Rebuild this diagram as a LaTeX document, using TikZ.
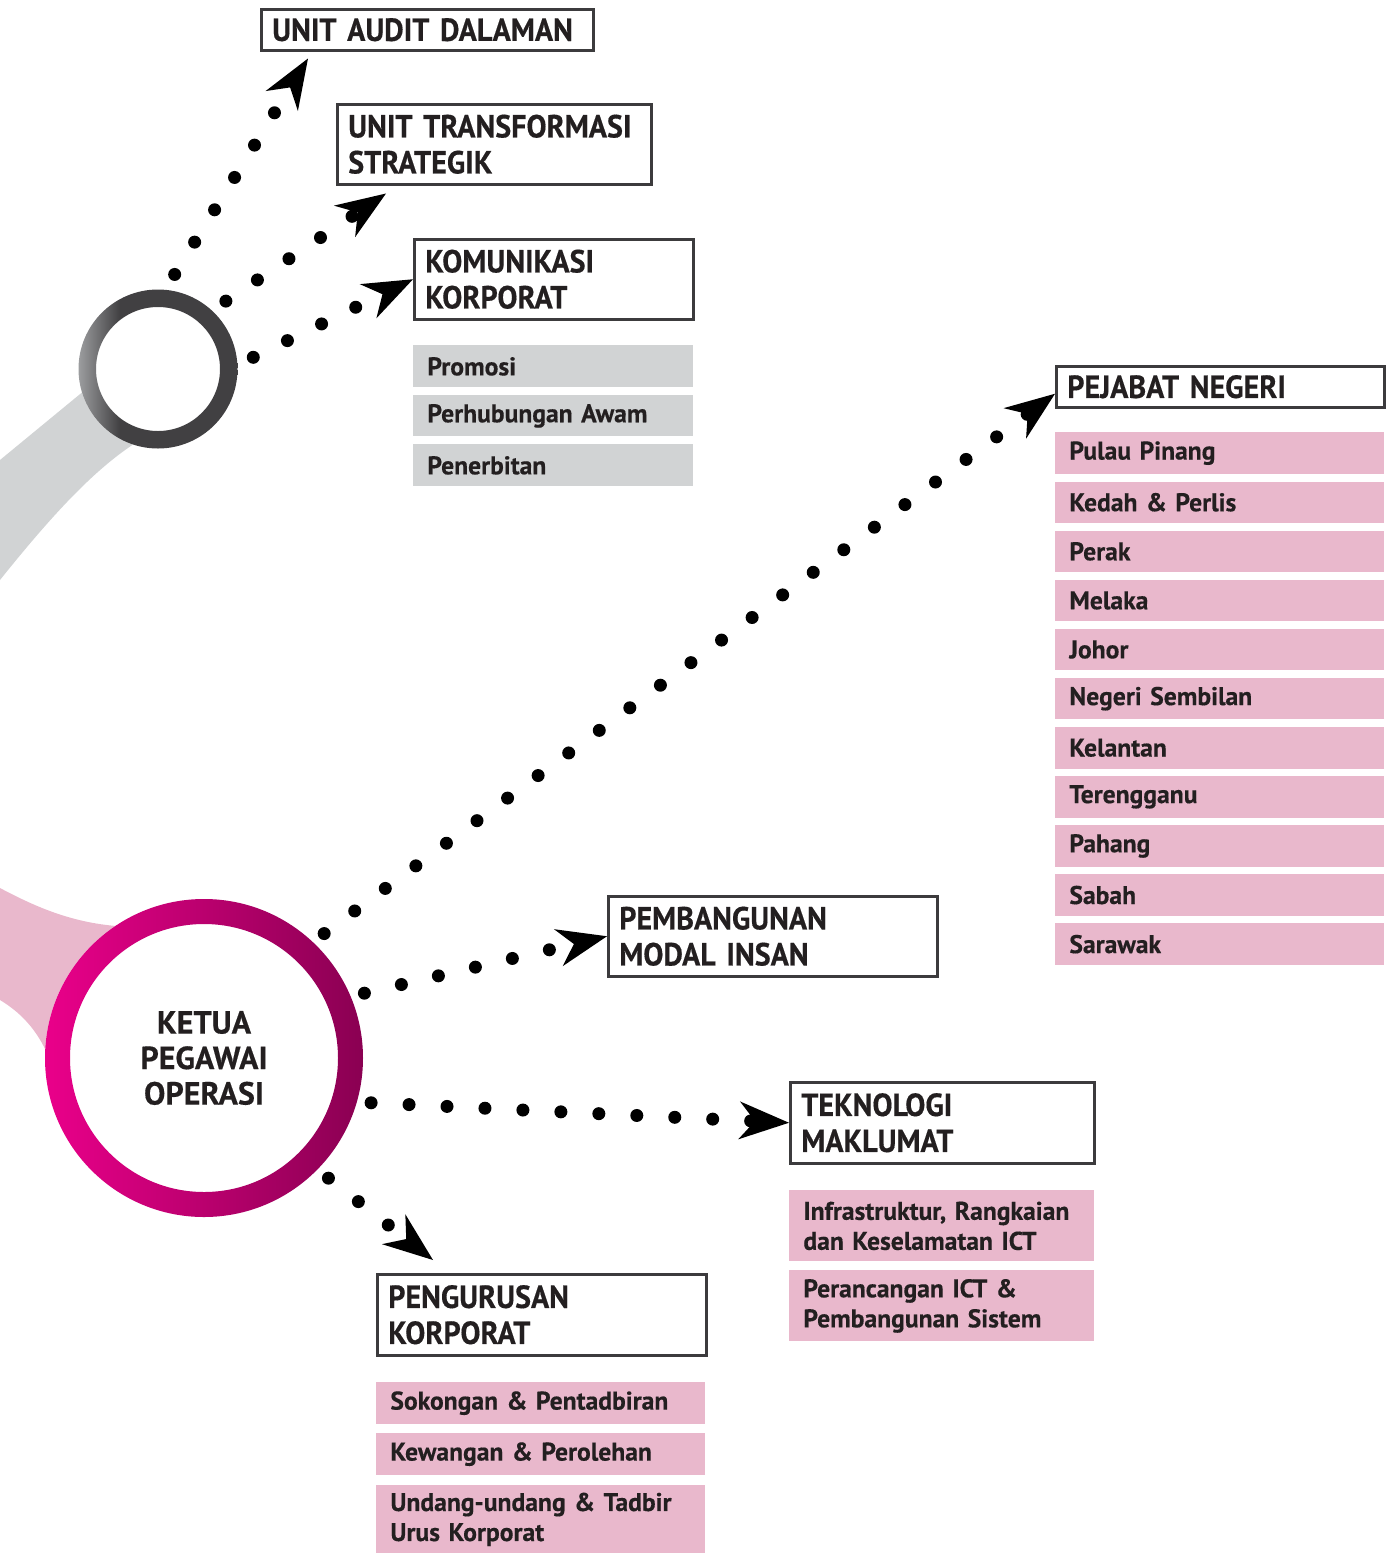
\documentclass[tikz,border=0pt]{standalone}
\usepackage{fontspec}
\setmainfont{PT Sans}[WordSpace=0.7, BoldFeatures={FakeBold=0.4}]
\newfontfamily\headfam{PT Sans}[WordSpace=0.8, FakeStretch=0.94, BoldFeatures={FakeBold=0.4}]
\usepackage{xcolor}
\usepackage{tikz}
\usetikzlibrary{arrows.meta}

\definecolor{inkc}{HTML}{231F20}
\definecolor{boxline}{HTML}{3C3B3D}
\definecolor{greybg}{HTML}{D1D3D4}
\definecolor{pinkbg}{HTML}{E9B8CC}
\definecolor{ringlite}{HTML}{9C9D9F}
\definecolor{ringdark}{HTML}{414042}
\definecolor{ringpinkL}{HTML}{EA008A}
\definecolor{ringpinkR}{HTML}{8A0052}

\pgfdeclarehorizontalshading{greyring}{100bp}{color(0bp)=(ringlite); color(25bp)=(ringlite); color(38bp)=(ringdark); color(100bp)=(ringdark)}

\hyphenpenalty=10000
\newcommand\headfont{\headfam\bfseries\fontsize{16}{18}\selectfont}
\newcommand\subfont{\bfseries\fontsize{12.8}{15}\selectfont}

\tikzset{
  unitbox/.style={draw=boxline, line width=1.25pt, fill=white, anchor=north west,
    inner xsep=5.5pt, inner ysep=0pt, align=left, text=inkc, font=\headfont},
  subbox/.style={fill=#1, anchor=north west, inner xsep=7pt, inner ysep=0pt,
    align=left, text=inkc, font=\subfont},
  dotarrow/.style={line width=6.5pt, line cap=round, dash pattern=on 0pt off 19pt,
    -{Stealth[length=25pt, width=19pt, inset=8pt, line width=0pt]}},
}

\begin{document}
\begin{tikzpicture}[x=0.5pt, y=-0.5pt]
    \useasboundingbox (0,0) rectangle (1386,1553);

    % Bands behind the circles
    \fill[greybg] (0,460) -- (85,390) -- (140,440) .. controls (100,465) and (60,505) .. (0,580) -- cycle;
    \fill[pinkbg] (0,888) .. controls (45,912) and (85,927) .. (140,927) -- (100,1000) -- (50,1060)
        .. controls (40,1035) and (25,1015) .. (0,1000) -- cycle;

    % Circles
    \node[circle, fill=white, minimum size=79.5pt, inner sep=0pt, outer sep=8.25pt] (topc) at (158,369) {};
    \shade[shading=greyring, even odd rule] (topc.center) circle (39.75pt) (topc.center) circle (31pt);

    \node[circle, fill=white, minimum size=159pt, inner sep=0pt, outer sep=7pt, align=center,
        text=inkc, font=\bfseries\fontsize{16}{17.75}\selectfont] (ceo) at (204,1058) {KETUA\\PEGAWAI\\OPERASI};
    \shade[left color=ringpinkL, right color=ringpinkR, even odd rule] (ceo.center) circle (79.5pt) (ceo.center) circle (67pt);

    % Units under the grey circle
    \node[unitbox, text width=155pt, minimum height=20.5pt] (audit) at (260,8) {UNIT AUDIT DALAMAN};
    \node[unitbox, text width=146pt, minimum height=40pt] (transf) at (336,103) {UNIT TRANSFORMASI\\STRATEGIK};
    \node[unitbox, text width=128.5pt, minimum height=40pt] (komun) at (413,238) {KOMUNIKASI\\KORPORAT};
    \node[subbox=greybg, text width=126pt, minimum height=21pt] (promosi) at (413,345) {Promosi};
    \node[subbox=greybg, text width=126pt, minimum height=20.5pt] (awam) at (413,395) {Perhubungan Awam};
    \node[subbox=greybg, text width=126pt, minimum height=21pt] (terbit) at (413,444) {Penerbitan};

    % Pejabat negeri
    \node[unitbox, text width=153pt, minimum height=20.5pt] (pejabat) at (1055,365) {PEJABAT NEGERI};
    \foreach \st [count=\i from 0] in {Pulau Pinang, Kedah \& Perlis, Perak, Melaka, Johor,
        Negeri Sembilan, Kelantan, Terengganu, Pahang, Sabah, Sarawak}
      \node[subbox=pinkbg, text width=150.5pt, minimum height=20.75pt] (negeri\i) at (1055,{432+49.1*\i}) {\st};

    % Units under the pink circle
    \node[unitbox, text width=153.5pt, minimum height=40pt] (modal) at (607,895) {PEMBANGUNAN\\MODAL INSAN};

    \node[unitbox, text width=141pt, minimum height=40.5pt] (tekno) at (789,1081) {TEKNOLOGI\\MAKLUMAT};
    \node[subbox=pinkbg, text width=138.5pt, minimum height=35.5pt] (infra) at (789,1190) {Infrastruktur, Rangkaian\\dan Keselamatan ICT};
    \node[subbox=pinkbg, text width=138.5pt, minimum height=35.5pt] (sistem) at (789,1270) {Perancangan ICT \&\\Pembangunan Sistem};

    \node[unitbox, text width=153.5pt, minimum height=40.5pt] (peng) at (376,1273) {PENGURUSAN\\KORPORAT};
    \node[subbox=pinkbg, text width=150.5pt, minimum height=20.75pt] (sokong) at (376,1382) {Sokongan \& Pentadbiran};
    \node[subbox=pinkbg, text width=150.5pt, minimum height=20.75pt] (wang) at (376,1433) {Kewangan \& Perolehan};
    \node[subbox=pinkbg, text width=150.5pt, minimum height=34pt] (undang) at (376,1485) {Undang-undang \& Tadbir\\Urus Korporat};

    % Dotted arrows
    \draw[dotarrow] (topc.80.5) -- ([xshift=24pt,yshift=-3.5pt]audit.south west);
    \draw[dotarrow] (topc.45.4) -- ([xshift=25pt,yshift=-4pt]transf.south west);
    \draw[dotarrow] (topc.7.4) -- (komun.west);

    \draw[dotarrow] (ceo.46.2) -- ([yshift=-3.5pt]pejabat.west);
    \draw[dotarrow] (ceo.22.7) -- (modal.west);
    \draw[dotarrow] (ceo.-15.1) -- (tekno.west);
    \draw[dotarrow] (ceo.-44.8) -- ([xshift=28.5pt,yshift=6.5pt]peng.north west);
\end{tikzpicture}
\end{document}
